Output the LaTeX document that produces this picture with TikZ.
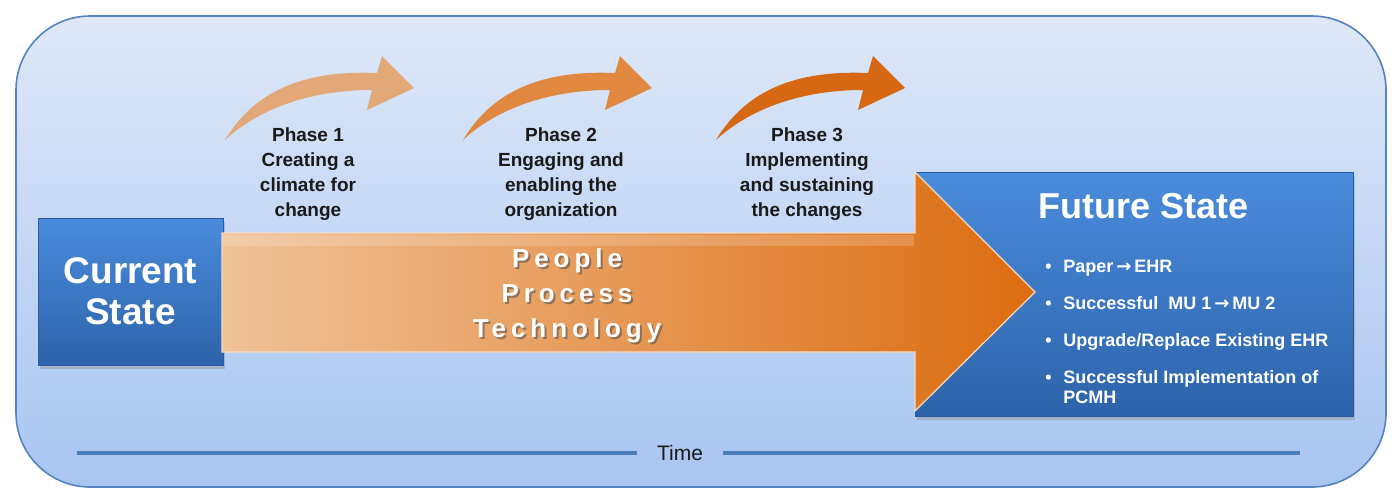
\documentclass[tikz,border=0pt]{standalone}
\usepackage{fontspec}
\setmainfont{Liberation Sans}
\newfontfamily\arrowfont{DejaVu Sans}
\usetikzlibrary{positioning,shadows}

\definecolor{panelline}{HTML}{5583C2}
\definecolor{paneltop}{HTML}{DEE8F8}
\definecolor{panelbot}{HTML}{A8C5F1}
\definecolor{boxtop}{HTML}{4A8CDC}
\definecolor{boxbot}{HTML}{2D63AA}
\definecolor{boxline}{HTML}{2A5B9C}
\definecolor{shaftleft}{HTML}{F0C298}
\definecolor{shaftright}{HTML}{DC6C10}
\definecolor{phaseone}{HTML}{E2A878}
\definecolor{phasetwo}{HTML}{E08840}
\definecolor{phasethree}{HTML}{D66814}
\definecolor{timeblue}{HTML}{4A7EBB}
\definecolor{inktext}{HTML}{1A1A1A}

\newcommand{\goesto}{{\arrowfont\bfseries →}}

\tikzset{
  panel/.style={draw=panelline, line width=0.8pt, rounded corners=37pt,
    top color=paneltop, bottom color=panelbot},
  statebox/.style={draw=boxline, line width=0.5pt, top color=boxtop, bottom color=boxbot,
    drop shadow={opacity=0.35, shadow xshift=1pt, shadow yshift=-2pt},
    text=white, font=\bfseries\fontsize{18.5}{20.5}\selectfont, align=center, inner sep=0pt},
  titletext/.style={text=white, font=\bfseries\fontsize{18}{20.5}\selectfont, inner sep=0pt},
  bigarrow/.style={draw=shaftleft!60!white, line width=0.6pt,
    left color=shaftleft, right color=shaftright},
  phasetext/.style={text=inktext, font=\bfseries\fontsize{9.5}{12.5}\selectfont,
    align=center, inner sep=0pt},
  ppttext/.style={text=white, align=center, inner sep=0pt,
    font=\bfseries\fontsize{13}{17.5}\selectfont\addfontfeature{LetterSpace=19}},
  listtext/.style={text=white, font=\bfseries\fontsize{9}{10}\selectfont, inner sep=0pt},
  timeline/.style={draw=timeblue, line width=2pt}
}

\newcommand{\phasearrow}[2]{%
  \fill[#2, shift={(#1)}] (0,0) .. controls (30,-50) and (80,-70) .. (152,-67)
    -- (157,-84) -- (189,-52) -- (142,-30) -- (147,-50)
    .. controls (80,-50) and (30,-28) .. (0,0) -- cycle;}

\begin{document}
\begin{tikzpicture}[x=0.5pt,y=-0.5pt]
  \useasboundingbox (0,0) rectangle (1398,500);
  \draw[panel] (16,16) rectangle (1386,487);

  % phases
  \phasearrow{225,140}{phaseone}
  \phasearrow{463,140}{phasetwo}
  \phasearrow{716,140}{phasethree}
  \node[phasetext] (phase1) at (308,174) {Phase 1\\Creating a\\climate for\\change};
  \node[phasetext] (phase2) at (561,174) {Phase 2\\Engaging and\\enabling the\\organization};
  \node[phasetext] (phase3) at (807,174) {Phase 3\\Implementing\\and sustaining\\the changes};

  % states
  \node[statebox, minimum width=92.5pt, minimum height=73.5pt] (current) at (130.5,291.5) {Current\\State};
  \node[statebox, minimum width=219pt, minimum height=122pt] (future) at (1134,294) {};
  \draw[bigarrow] (222,233) -- (915,233) -- (915,172) -- (1035,292) -- (915,411) -- (915,352) -- (222,352) -- cycle;
  \fill[white, opacity=0.18] (223,235) rectangle (914,246);
  \node[ppttext, text=black!70, opacity=0.55] (pptshadow) at (569,298) {People\\Process\\Technology};
  \node[ppttext] (ppt) at (567,296) {People\\Process\\Technology};

  \node[titletext, anchor=base] (futuretitle) at (1144,218) {Future State};
  \node[listtext, anchor=north west] (futurelist) at (1045,258) {%
    \begin{tabular}{@{}l@{\hspace{5.8pt}}l@{}}
      • & Paper\,\goesto\,EHR\\[8.5pt]
      • & Successful\ \ MU 1\,\goesto\,MU 2\\[8.5pt]
      • & Upgrade/Replace Existing EHR\\[8.5pt]
      • & Successful Implementation of\\
        & PCMH
    \end{tabular}};

  % time axis
  \node[text=inktext, font=\fontsize{10.5}{12}\selectfont, inner xsep=10pt] (time) at (680,453) {Time};
  \coordinate (tstart) at (77,453);
  \coordinate (tend) at (1300,453);
  \draw[timeline] (tstart) -- (time);
  \draw[timeline] (time) -- (tend);
\end{tikzpicture}
\end{document}
